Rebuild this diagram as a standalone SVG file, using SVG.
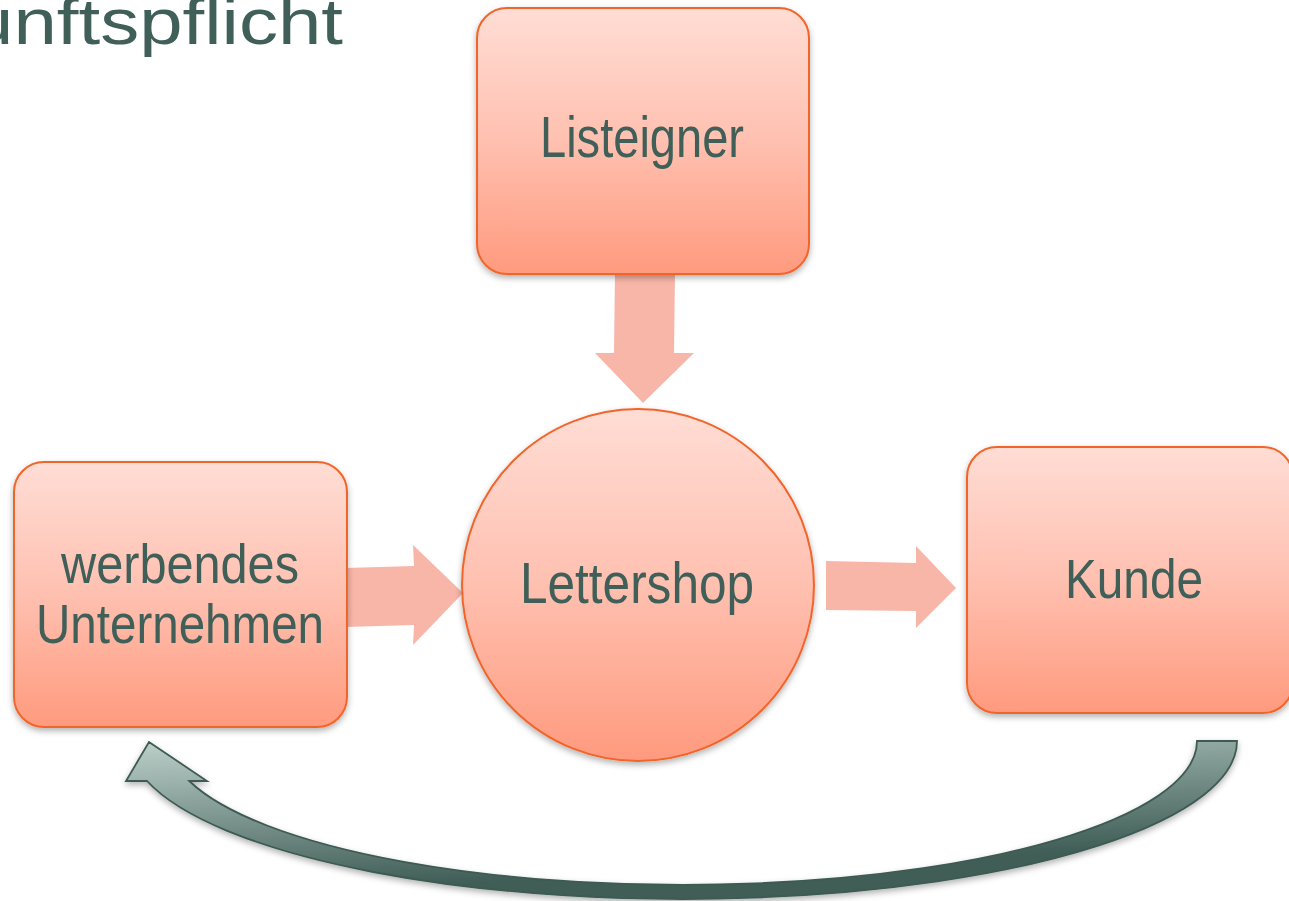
<svg xmlns="http://www.w3.org/2000/svg" width="1289" height="901" viewBox="0 0 1289 901">
  <defs>
    <linearGradient id="nodeGrad" x1="0" y1="0" x2="0" y2="1">
      <stop offset="0" stop-color="#ffddd5"/>
      <stop offset="0.5" stop-color="#ffc0b0"/>
      <stop offset="1" stop-color="#ff9a7e"/>
    </linearGradient>
    <linearGradient id="curveGrad" gradientUnits="userSpaceOnUse" x1="149" y1="741" x2="157" y2="899">
      <stop offset="0" stop-color="#bdd0ca"/>
      <stop offset="1" stop-color="#3f5d56"/>
    </linearGradient>
    <filter id="shadow" x="-10%" y="-10%" width="120%" height="125%">
      <feDropShadow dx="0" dy="3" stdDeviation="3" flood-color="#000" flood-opacity="0.3"/>
    </filter>
    <style>
      .node { fill: url(#nodeGrad); stroke: #f2652a; stroke-width: 2; filter: url(#shadow); }
      .lbl { font-family: "Liberation Sans", Arial, sans-serif; fill: #3f5f58; text-anchor: middle; }
      .flow { fill: #f8b6a8; }
      .curve { fill: url(#curveGrad); stroke: #3d5a53; stroke-width: 1.8; stroke-linejoin: miter; filter: url(#shadow); }
    </style>
  </defs>

  <text id="title" x="-30" y="44" font-family="Liberation Sans, Arial, sans-serif" font-size="64" fill="#3f5f58" textLength="373" lengthAdjust="spacingAndGlyphs">unftspflicht</text>

  <g id="connectors">
    <polygon class="flow" points="615,272 675,272 674,353 694,353 643,403 595,353 614,353"/>
    <polygon class="flow" points="345,568 414,566 413,545 463,593 413,645 414,625 345,627"/>
    <polygon class="flow" points="826,561 916,563 916,546 956,588 916,628 916,611 826,610"/>
    <path class="curve" d="M1197,741 L1237,741 A554,158 0 0 1 147.04,781 L126,781 L149,742 L207,781 L189.3,781 A514,144 0 0 0 1197,741 Z"/>
  </g>

  <g id="listeigner">
    <rect class="node" x="477" y="8" width="332" height="266" rx="30" ry="30"/>
    <text class="lbl" x="642" y="157" font-size="58" textLength="204" lengthAdjust="spacingAndGlyphs">Listeigner</text>
  </g>

  <g id="werbendes-unternehmen">
    <rect class="node" x="14" y="462" width="333" height="265" rx="30" ry="30"/>
    <text class="lbl" x="180" y="583" font-size="56" textLength="238" lengthAdjust="spacingAndGlyphs">werbendes</text>
    <text class="lbl" x="180" y="643" font-size="56" textLength="288" lengthAdjust="spacingAndGlyphs">Unternehmen</text>
  </g>

  <g id="lettershop">
    <circle class="node" cx="638" cy="585" r="176"/>
    <text class="lbl" x="637" y="603" font-size="57" textLength="234" lengthAdjust="spacingAndGlyphs">Lettershop</text>
  </g>

  <g id="kunde">
    <rect class="node" x="967" y="447" width="326" height="266" rx="30" ry="30"/>
    <text class="lbl" x="1134" y="598" font-size="56" textLength="138" lengthAdjust="spacingAndGlyphs">Kunde</text>
  </g>
</svg>
